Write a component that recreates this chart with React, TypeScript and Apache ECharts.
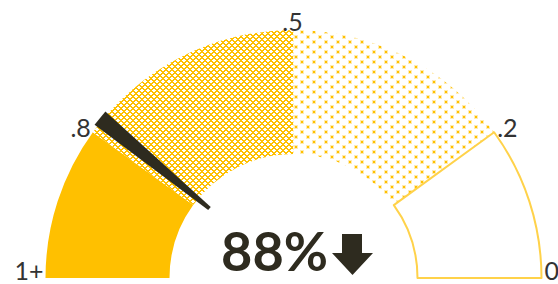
import React, { useEffect, useRef } from 'react';
import * as echarts from 'echarts';

// ---- data ----
const bandEdges = [1, 0.8, 0.5, 0.2, 0];
const bandLabels = ['1+', '.8', '.5', '.2', '0'];
const bandNames = ['1 – .8', '.8 – .5', '.5 – .2', '.2 – 0'];
const needleValues = [0.78];
const headlineTexts = ['88%'];

const GOLD = '#FFC000';
const INK = '#2E2B1F';
const LABEL_INK = '#333333';

function makeTile(w: number, h: number, paint: (ctx: CanvasRenderingContext2D) => void) {
  const c = document.createElement('canvas');
  c.width = w;
  c.height = h;
  const ctx = c.getContext('2d') as CanvasRenderingContext2D;
  ctx.fillStyle = '#ffffff';
  ctx.fillRect(0, 0, w, h);
  paint(ctx);
  return { image: c.toDataURL(), repeat: 'repeat', imageWidth: w, imageHeight: h } as any;
}

export default function App() {
  const ref = useRef<HTMLDivElement>(null);
  useEffect(() => {
    if (!ref.current) return;
    const chart = echarts.init(ref.current, null, { renderer: 'svg' });
    const cx = 293.5;
    const cy = 278;
    const rIn = 124;
    const rOut = 248;

    const cross = makeTile(6, 6, (ctx) => {
      for (let x = 0; x < 6; x++) {
        for (let y = 0; y < 6; y++) {
          const d1 = (x + y) % 6;
          const d2 = (x - y + 6) % 6;
          if (d1 <= 1 || d2 <= 1) {
            ctx.fillStyle = GOLD;
            ctx.fillRect(x, y, 1, 1);
          }
        }
      }
    });
    const dots = makeTile(12, 10, (ctx) => {
      ctx.fillStyle = '#FFEBB0';
      ctx.fillRect(0, 0, 4, 4);
      ctx.fillRect(6, 5, 4, 4);
      ctx.fillStyle = GOLD;
      ctx.fillRect(1, 1, 2, 2);
      ctx.fillRect(7, 6, 2, 2);
    });

    const fills = [
      { color: GOLD, borderWidth: 0 },
      { color: cross, borderWidth: 0 },
      { color: dots, borderWidth: 0 },
      { color: '#ffffff', borderColor: '#FFD24A', borderWidth: 2 },
    ];
    const spans = bandNames.map((n, i) => bandEdges[i] - bandEdges[i + 1]);
    const total = bandEdges[0] - bandEdges[bandEdges.length - 1];
    const pieData: any[] = bandNames.map((n, i) => ({ name: n, value: spans[i], itemStyle: fills[i] }));
    pieData.push({ name: 'hidden', value: total, itemStyle: { color: 'rgba(0,0,0,0)' } });

    const fs = 25;
    const labelGraphics = bandEdges.map((v, i) => {
      const th = v * Math.PI;
      const c = Math.cos(th);
      const s = Math.sin(th);
      const px = cx + rOut * c;
      const py = cy - rOut * s;
      const align = c < -0.2 ? 'right' : c > 0.2 ? 'left' : 'center';
      const dx = align === 'right' ? -2 : align === 'left' ? 3 : -1;
      // baseline of the label relative to the band edge point
      const baseline = align === 'center' ? py - 2 : Math.min(py + 2, 277);
      return {
        type: 'text',
        silent: true,
        z: 100,
        style: {
          text: bandLabels[i],
          x: px + dx,
          y: baseline - 7,
          align,
          verticalAlign: 'middle',
          font: `${fs}px Lato, "Noto Sans", sans-serif`,
          fill: LABEL_INK,
        },
      };
    });

    chart.setOption({
      animation: false,
      series: [
        {
          type: 'pie',
          silent: true,
          z: 1,
          center: [cx, cy],
          radius: [rIn, rOut],
          startAngle: 180,
          clockwise: true,
          label: { show: false },
          labelLine: { show: false },
          emphasis: { disabled: true },
          data: pieData,
        },
        {
          type: 'gauge',
          silent: true,
          z: 10,
          center: [cx, cy],
          radius: rOut,
          startAngle: 180,
          endAngle: 0,
          min: 1,
          max: 0,
          axisLine: { show: false },
          splitLine: { show: false },
          axisTick: { show: false },
          axisLabel: { show: false },
          progress: { show: false },
          anchor: { show: false },
          title: { show: false },
          detail: { show: false },
          pointer: {
            icon: 'path://M0 0 L17 0 L10.5 140 L6.5 140 Z',
            length: 142,
            width: 17,
            offsetCenter: [0, -109],
            itemStyle: { color: INK },
          },
          data: [{ value: needleValues[0] }],
        },
      ],
      graphic: [
        ...labelGraphics,
        {
          type: 'text',
          silent: true,
          z: 100,
          style: {
            text: headlineTexts[0],
            x: 328,
            y: 250.5,
            align: 'right',
            verticalAlign: 'middle',
            lineHeight: 48,
            font: `bold 54px Lato, "Noto Sans", sans-serif`,
            fill: INK,
          },
        },
        {
          type: 'polygon',
          silent: true,
          z: 100,
          shape: {
            points: [
              [342, 234],
              [362, 234],
              [362, 253],
              [373, 253],
              [352.5, 275],
              [332, 253],
              [342, 253],
            ],
          },
          style: { fill: INK },
        },
      ],
    });
    return () => chart.dispose();
  }, []);
  return (
    <div
      ref={ref}
      style={{ position: 'fixed', left: 0, top: 0, width: 558, height: 284, background: '#ffffff' }}
    />
  );
}
